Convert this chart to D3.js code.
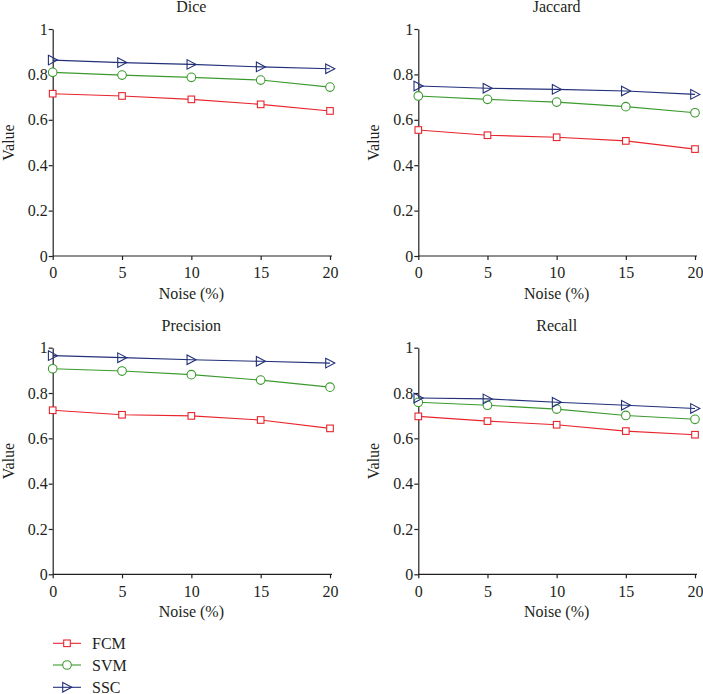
<!DOCTYPE html>
<html><head><meta charset="utf-8">
<script src="https://cdn.jsdelivr.net/npm/d3@7"></script>
<style>body{margin:0;background:#fff}svg{display:block}svg text{font-family:"Liberation Serif","DejaVu Serif",serif !important;fill:#231f20}</style>
</head><body>
<script>
const noise = [0, 5, 10, 15, 20];
const yTicks = [0, 0.2, 0.4, 0.6, 0.8, 1];
const seriesNames = ["FCM", "SVM", "SSC"];
const panelTitles = ["Dice", "Jaccard", "Precision", "Recall"];
const diceFCM = [0.715, 0.705, 0.690, 0.668, 0.639];
const diceSVM = [0.809, 0.797, 0.787, 0.775, 0.744];
const diceSSC = [0.863, 0.852, 0.844, 0.833, 0.825];
const jacFCM = [0.555, 0.532, 0.523, 0.507, 0.471];
const jacSVM = [0.705, 0.690, 0.678, 0.658, 0.631];
const jacSSC = [0.749, 0.739, 0.734, 0.727, 0.712];
const preFCM = [0.724, 0.704, 0.699, 0.681, 0.644];
const preSVM = [0.907, 0.897, 0.881, 0.857, 0.826];
const preSSC = [0.965, 0.956, 0.947, 0.940, 0.932];
const recFCM = [0.697, 0.676, 0.660, 0.632, 0.616];
const recSVM = [0.759, 0.746, 0.729, 0.701, 0.684];
const recSSC = [0.778, 0.774, 0.759, 0.746, 0.732];

const colors = {FCM: "#e8252d", SVM: "#3b9a2e", SSC: "#22307a"};
const panels = [
  {title: panelTitles[0], x0: 52.7, x1: 330, yTop: 29, yBot: 256, data: [diceFCM, diceSVM, diceSSC]},
  {title: panelTitles[1], x0: 418.3, x1: 695, yTop: 29, yBot: 256, data: [jacFCM, jacSVM, jacSSC]},
  {title: panelTitles[2], x0: 52.7, x1: 330, yTop: 347.7, yBot: 574.3, data: [preFCM, preSVM, preSSC]},
  {title: panelTitles[3], x0: 418.3, x1: 695, yTop: 347.7, yBot: 574.3, data: [recFCM, recSVM, recSSC]}
];

const FONT = '"Liberation Serif","DejaVu Serif",serif';
const svg = d3.select("body").append("svg").attr("width", 703).attr("height", 694)
  .attr("font-family", FONT);

function drawMarker(g, name, cx, cy) {
  const c = colors[name];
  if (name === "FCM") {
    g.append("rect").attr("x", cx - 3.3).attr("y", cy - 3.3).attr("width", 6.6).attr("height", 6.6)
      .attr("fill", "#fff").attr("stroke", c).attr("stroke-width", 1.1);
  } else if (name === "SVM") {
    g.append("circle").attr("cx", cx).attr("cy", cy).attr("r", 4.3)
      .attr("fill", "#fff").attr("stroke", c).attr("stroke-width", 1.1);
  } else {
    g.append("path").attr("d", `M${cx-4.3},${cy-4.8}L${cx+4.8},${cy}L${cx-4.3},${cy+4.8}Z`)
      .attr("fill", "none").attr("stroke", c).attr("stroke-width", 1.1);
  }
}

panels.forEach(p => {
  const x = d3.scaleLinear().domain([0, 20]).range([p.x0, p.x1]);
  const y = d3.scaleLinear().domain([0, 1]).range([p.yBot, p.yTop]);
  const g = svg.append("g");
  const xa = g.append("g").attr("transform", `translate(0,${p.yBot})`)
    .call(d3.axisBottom(x).tickValues(noise).tickSize(4).tickPadding(7).tickSizeOuter(0));
  xa.select(".domain").attr("d", `M${p.x0},0H${p.x1 + 2}`);
  const ya = g.append("g").attr("transform", `translate(${p.x0},0)`)
    .call(d3.axisLeft(y).tickValues(yTicks).tickFormat(d => d3.format("")(d)).tickSize(4).tickPadding(1).tickSizeOuter(0));
  [xa, ya].forEach(a => {
    a.attr("font-family", FONT).attr("font-size", 16);
    a.selectAll("path,line").attr("stroke", "#231f20").attr("stroke-width", 1.2);
    a.selectAll("text").attr("fill", "#231f20");
  });
  g.append("text").attr("x", (p.x0 + p.x1) / 2).attr("y", p.yTop - 17).attr("text-anchor", "middle")
    .attr("font-size", 16).text(p.title);
  g.append("text").attr("x", (p.x0 + p.x1) / 2).attr("y", p.yBot + 43).attr("text-anchor", "middle")
    .attr("font-size", 16).text("Noise (%)");
  g.append("text").attr("transform", `translate(${p.x0 - 39},${(p.yTop + p.yBot) / 2}) rotate(-90)`)
    .attr("text-anchor", "middle").attr("font-size", 16).text("Value");
  const line = d3.line().x((d, i) => x(noise[i])).y(d => y(d));
  p.data.forEach((vals, si) => {
    const name = seriesNames[si];
    g.append("path").datum(vals).attr("d", line).attr("fill", "none")
      .attr("stroke", colors[name]).attr("stroke-width", 1.1);
    vals.forEach((v, i) => drawMarker(g, name, x(noise[i]), y(v)));
  });
});

// legend
const legY = [643.3, 665, 687.3];
seriesNames.forEach((name, i) => {
  const g = svg.append("g");
  g.append("line").attr("x1", 53).attr("x2", 81).attr("y1", legY[i]).attr("y2", legY[i])
    .attr("stroke", colors[name]).attr("stroke-width", 1.1);
  drawMarker(g, name, 67, legY[i]);
  g.append("text").attr("x", 92).attr("y", legY[i] + 5.5).attr("font-size", 16).text(name);
});
</script>
</body></html>
